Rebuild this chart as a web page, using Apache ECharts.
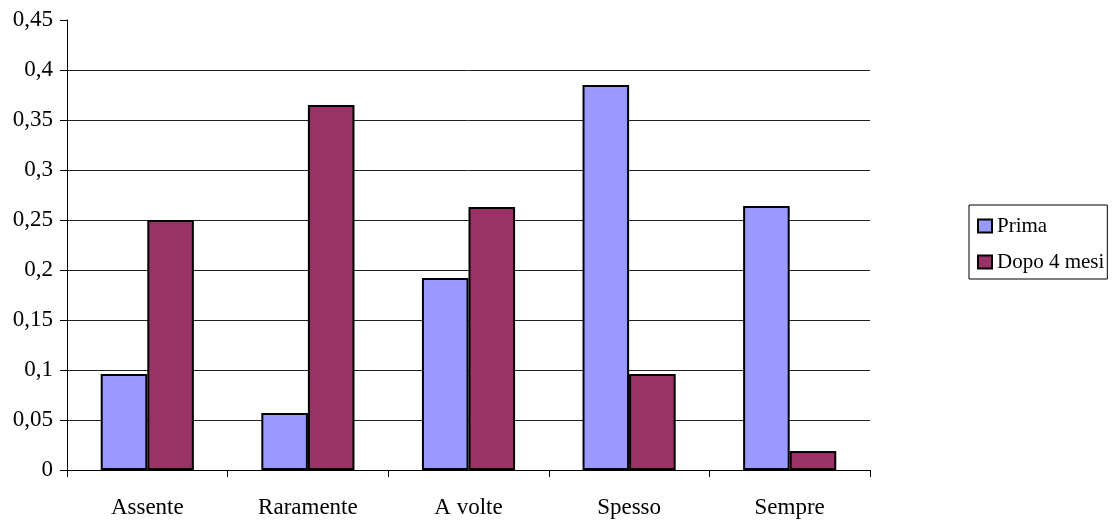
<!DOCTYPE html>
<html>
<head>
<meta charset="utf-8">
<script src="https://cdn.jsdelivr.net/npm/echarts@6/dist/echarts.min.js"></script>
<style>html,body{margin:0;padding:0;background:#fff}#c{width:1112px;height:523px}</style>
</head>
<body>
<div id="c"></div>
<script>
const categories = ['Assente', 'Raramente', 'A volte', 'Spesso', 'Sempre'];
const prima = [0.096, 0.057, 0.192, 0.385, 0.264];
const dopo = [0.25, 0.365, 0.263, 0.096, 0.019];
const seriesNames = ['Prima', 'Dopo 4 mesi'];

const FONT = '"Liberation Serif", "DejaVu Serif", serif';
const chart = echarts.init(document.getElementById('c'), null, {renderer: 'canvas'});
const gridColors = ['#222','#222','#222','#222','#222','#222','#222','#222','#222','rgba(0,0,0,0)'];
chart.setOption({
  animation: false,
  backgroundColor: '#fff',
  textStyle: {fontFamily: FONT},
  grid: {left: 67, top: 20, right: 242, bottom: 53, containLabel: false},
  legend: {
    orient: 'vertical',
    left: 969, top: 205,
    padding: [10, 3, 6, 8],
    borderColor: '#000', borderWidth: 1,
    icon: 'rect',
    itemWidth: 14, itemHeight: 13, itemGap: 14,
    itemStyle: {borderColor: '#000', borderWidth: 2},
    textStyle: {fontFamily: FONT, fontSize: 21, lineHeight: 22, color: '#000'},
    data: seriesNames
  },
  xAxis: {
    type: 'category',
    data: categories,
    axisLine: {lineStyle: {color: '#000', width: 1}},
    axisTick: {show: true, length: 7, lineStyle: {color: '#000'}},
    axisLabel: {fontFamily: FONT, fontSize: 23, color: '#000', margin: 26}
  },
  yAxis: {
    type: 'value',
    min: 0, max: 0.45, interval: 0.05,
    axisLine: {show: true, lineStyle: {color: '#000'}},
    axisTick: {show: true, length: 7, lineStyle: {color: '#000'}},
    axisLabel: {fontFamily: FONT, fontSize: 23, color: '#000', margin: 14,
      formatter: v => String(Math.round(v*100)/100).replace('.', ',')},
    splitLine: {show: true, lineStyle: {color: gridColors, width: 1}}
  },
  series: [
    {name: seriesNames[0], type: 'bar', data: prima, barGap: '0%', barCategoryGap: '42%',
     itemStyle: {color: '#9999ff', borderColor: '#000', borderWidth: 2}},
    {name: seriesNames[1], type: 'bar', data: dopo, barGap: '0%', barCategoryGap: '42%',
     itemStyle: {color: '#993366', borderColor: '#000', borderWidth: 2}}
  ]
});
</script>
</body>
</html>
